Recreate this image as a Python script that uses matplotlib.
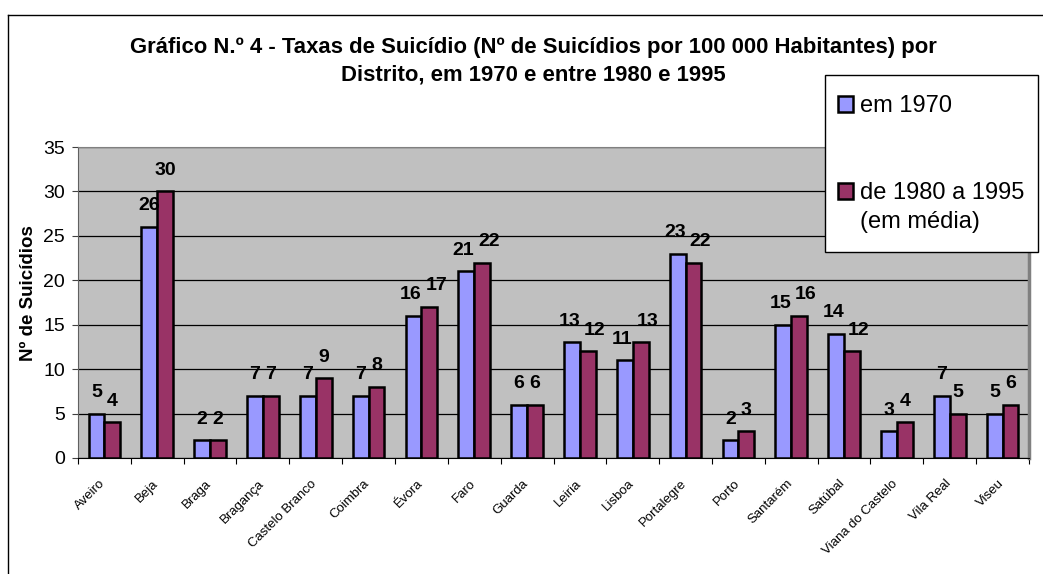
import matplotlib.pyplot as plt
import numpy as np
from matplotlib.patches import Rectangle
from matplotlib.lines import Line2D
from matplotlib.transforms import ScaledTranslation

distritos = ["Aveiro", "Beja", "Braga", "Bragança", "Castelo Branco", "Coimbra",
             "Évora", "Faro", "Guarda", "Leiria", "Lisboa", "Portalegre", "Porto",
             "Santarém", "Satúbal", "Viana do Castelo", "Vila Real", "Viseu"]
taxa_1970 = [5, 26, 2, 7, 7, 7, 16, 21, 6, 13, 11, 23, 2, 15, 14, 3, 7, 5]
taxa_80_95 = [4, 30, 2, 7, 9, 8, 17, 22, 6, 12, 13, 22, 3, 16, 12, 4, 5, 6]
series_labels = ["em 1970", "de 1980 a 1995", "(em média)"]
cores = ["#9999FF", "#993366"]

W, H = 1043, 574
plt.rcParams['font.family'] = ['Liberation Sans', 'DejaVu Sans']
fig = plt.figure(figsize=(W / 100, H / 100), dpi=100)

# area do grafico em pixels
x0, x1, y0, y1 = 78, 1029, 147, 458
ax = fig.add_axes([x0 / W, 1 - y1 / H, (x1 - x0) / W, (y1 - y0) / H])
ax.set_facecolor("#C0C0C0")

x = np.arange(len(distritos))
bw = 0.30
b1 = ax.bar(x - bw / 2, taxa_1970, bw, color=cores[0], edgecolor="black", linewidth=1.8, zorder=3)
b2 = ax.bar(x + bw / 2, taxa_80_95, bw, color=cores[1], edgecolor="black", linewidth=1.8, zorder=3)

# rotulos de dados; afasta um pouco os pares de dois digitos (como faz o Excel)
for i, (r1, r2) in enumerate(zip(b1, b2)):
    v1, v2 = taxa_1970[i], taxa_80_95[i]
    dx1, dx2 = 0, 0
    if v1 >= 10 and v2 >= 10 and abs(v1 - v2) < 3:
        dx1, dx2 = -2, 5
    for r, v, dx in ((r1, v1, dx1), (r2, v2, dx2)):
        ax.annotate(str(v), (r.get_x() + r.get_width() / 2, v), xytext=(dx, 9),
                    textcoords="offset points", ha="center", va="bottom",
                    fontsize=14, fontweight="bold", zorder=5)

ax.set_xlim(-0.5, len(distritos) - 0.5)
ax.set_ylim(0, 35)
ax.set_yticks(range(0, 36, 5))
ax.yaxis.grid(True, color="black", linewidth=0.9, zorder=1)
ax.set_axisbelow(True)
ax.tick_params(axis="y", labelsize=14, length=4.5, pad=5, color="#404040")
ax.set_xticks(np.arange(-0.5, len(distritos), 1.0))
ax.set_xticklabels([])
ax.tick_params(axis="x", length=4, color="black")
ax.set_xticks(x, minor=True)
ax.set_xticklabels(distritos, minor=True, rotation=45, ha="right", va="top",
                   rotation_mode="anchor", fontsize=9.5)
ax.tick_params(axis="x", which="minor", length=0, pad=14)
off = ScaledTranslation(-5 / 100, 0, fig.dpi_scale_trans)
for lab in ax.get_xticklabels(minor=True):
    lab.set_transform(lab.get_transform() + off)
ax.spines["top"].set_color("#808080")
ax.spines["right"].set_color("#808080")
ax.spines["right"].set_linewidth(2.5)
ax.spines["left"].set_color("#606060")
ax.spines["bottom"].set_color("black")

ax.set_ylabel("Nº de Suicídios", fontsize=13.5, fontweight="bold")
ax.yaxis.set_label_coords(-0.043, 0.53)

fig.text(533 / W, 1 - 47 / H, "Gráfico N.º 4 - Taxas de Suicídio (Nº de Suicídios por 100 000 Habitantes) por",
         ha="center", va="center", fontsize=15.9, fontweight="bold")
fig.text(533 / W, 1 - 75 / H, "Distrito, em 1970 e entre 1980 e 1995",
         ha="center", va="center", fontsize=15.9, fontweight="bold")

# moldura exterior
fig.add_artist(Line2D([8 / W, 8 / W], [0, 1 - 15 / H], color="black", linewidth=1))
fig.add_artist(Line2D([8 / W, 1], [1 - 15 / H, 1 - 15 / H], color="black", linewidth=1))

# legenda
fig.add_artist(Rectangle((825 / W, 1 - 252 / H), (1038 - 825) / W, (252 - 75) / H,
                         transform=fig.transFigure, facecolor="white", edgecolor="black",
                         linewidth=1, zorder=10))
for cor, lbl, yc in ((cores[0], series_labels[0], 106), (cores[1], series_labels[1], 193)):
    h = Rectangle((0, 0), 1, 1, facecolor=cor, edgecolor="black", linewidth=1.8)
    leg = fig.legend([h], [lbl], loc="center left", bbox_to_anchor=(838 / W, 1 - yc / H),
                     frameon=False, fontsize=17, handlelength=0.64, handleheight=0.64,
                     handletextpad=0.3, borderpad=0, borderaxespad=0)
    leg.set_zorder(11)
fig.text(860 / W, 1 - 222 / H, series_labels[2], ha="left", va="center", fontsize=17, zorder=12)

fig.savefig("out.png", dpi=100)
